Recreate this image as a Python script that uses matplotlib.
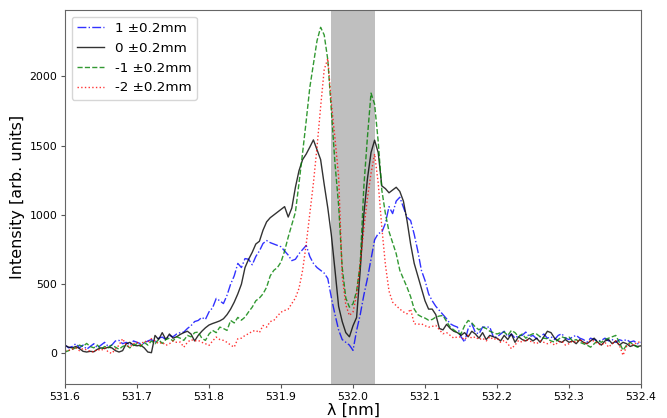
import matplotlib
matplotlib.use("Agg")
import matplotlib.pyplot as plt
import numpy as np

# wavelength grid [nm], 0.005 nm step
wavelength = np.linspace(531.6, 532.4, 161)

# intensities, one value per grid point
pos_1 = [
    60, 40, 50, 70, 40, 60, 30, 50, 70, 40,
    60, 80, 50, 60, 90, 94, 70, 80, 60, 90,
    80, 70, 72, 90, 100, 80, 110, 118, 100, 130,
    120, 140, 150, 154, 180, 200, 230, 238, 260, 245,
    300, 330, 397, 380, 360, 420, 500, 560, 650, 620,
    685, 680, 640, 700, 740, 794, 815, 800, 790, 780,
    770, 740, 710, 670, 680, 720, 750, 780, 700, 650,
    620, 600, 580, 540, 400, 280, 170, 100, 80, 60,
    22, 166, 280, 420, 540, 680, 820, 866, 875, 940,
    1060, 1010, 1100, 1128, 1056, 983, 960, 860, 740, 600,
    527, 430, 380, 340, 310, 280, 250, 214, 200, 190,
    120, 82, 180, 214, 150, 142, 190, 190, 190, 118,
    118, 140, 160, 120, 140, 110, 130, 130, 154, 120,
    130, 106, 120, 140, 110, 120, 100, 130, 142, 110,
    100, 120, 130, 110, 100, 82, 110, 100, 90, 94,
    110, 90, 100, 80, 99, 90, 100, 82, 90, 70,
    80,
]

pos_0 = [
    58, 45, 40, 50, 35, 15, 10, 15, 12, 30,
    40, 35, 45, 40, 20, 10, 20, 70, 80, 60,
    55, 60, 40, 10, 5, 130, 100, 150, 100, 140,
    110, 120, 137, 150, 160, 140, 90, 130, 160, 185,
    205, 216, 225, 235, 250, 280, 320, 370, 430, 500,
    620, 680, 730, 790, 810, 890, 950, 980, 1000, 1020,
    1040, 1060, 985, 1050, 1200, 1320, 1400, 1440, 1490, 1542,
    1470, 1400, 1220, 1050, 850, 600, 340, 230, 150, 120,
    200, 260, 600, 1000, 1260, 1450, 1540, 1450, 1210, 1190,
    1160, 1180, 1200, 1170, 1100, 960, 790, 650, 560, 470,
    380, 320, 320, 280, 180, 170, 210, 180, 160, 150,
    130, 150, 120, 160, 140, 110, 150, 100, 130, 120,
    110, 90, 130, 100, 140, 80, 120, 100, 90, 110,
    90, 110, 80, 120, 160, 150, 110, 90, 80, 100,
    80, 90, 70, 100, 80, 70, 90, 110, 80, 60,
    90, 100, 70, 90, 60, 80, 70, 50, 60, 50,
    55,
]

neg_1 = [
    10, 20, 30, 40, 60, 50, 72, 50, 40, 60,
    30, 50, 40, 60, 45, 30, 50, 60, 40, 58,
    70, 50, 80, 60, 90, 70, 100, 72, 100, 110,
    90, 120, 110, 94, 130, 120, 150, 154, 110, 94,
    140, 166, 150, 190, 180, 166, 238, 220, 260, 240,
    262, 300, 334, 380, 400, 430, 478, 560, 600, 620,
    660, 740, 840, 930, 1020, 1230, 1450, 1680, 1921, 2090,
    2258, 2355, 2300, 2120, 1750, 1370, 1070, 620, 400, 334,
    358, 450, 647, 1200, 1560, 1880, 1800, 1530, 1180, 1010,
    880, 800, 720, 600, 540, 478, 410, 320, 280, 265,
    255, 240, 245, 262, 270, 274, 230, 190, 170, 150,
    142, 200, 238, 220, 190, 170, 190, 180, 160, 150,
    140, 150, 154, 130, 166, 150, 120, 140, 110, 130,
    142, 140, 120, 110, 106, 90, 82, 100, 120, 110,
    118, 90, 100, 80, 70, 60, 45, 70, 94, 80,
    100, 110, 120, 130, 80, 22, 60, 80, 60, 45,
    50,
]

neg_2 = [
    20, 22, 30, 40, 20, 35, 25, 15, 10, 30,
    20, 40, 10, 0, 30, 60, 106, 60, 45, 70,
    80, 60, 90, 80, 106, 90, 70, 80, 58, 70,
    90, 80, 82, 45, 80, 100, 90, 94, 80, 70,
    58, 90, 118, 100, 94, 80, 60, 45, 106, 110,
    130, 142, 160, 166, 150, 202, 190, 230, 238, 270,
    298, 310, 320, 360, 400, 470, 600, 790, 1008, 1230,
    1489, 1780, 2050, 2130, 1800, 1550, 1280, 560, 350, 274,
    300, 420, 647, 900, 1120, 1300, 1441, 1230, 911, 640,
    450, 370, 345, 320, 300, 286, 320, 214, 210, 214,
    200, 190, 195, 202, 170, 142, 150, 130, 110, 120,
    118, 100, 130, 110, 120, 100, 110, 90, 120, 100,
    110, 80, 94, 70, 34, 60, 94, 80, 100, 90,
    80, 70, 90, 80, 70, 80, 60, 80, 90, 60,
    70, 90, 80, 100, 80, 70, 94, 90, 70, 60,
    80, 45, 70, 90, 60, -14, 50, 70, 60, 82,
    80,
]

labels = ["1 ±0.2mm", "0 ±0.2mm", "-1 ±0.2mm", "-2 ±0.2mm"]
series = [pos_1, pos_0, neg_1, neg_2]
colors = ["b", "k", "g", "r"]
styles = ["-.", "-", "--", ":"]

# shaded band around the central wavelength
band = (531.97, 532.03)

fig, ax = plt.subplots(figsize=(6.67, 4.18), dpi=100)
fig.subplots_adjust(left=0.0975, right=0.961, top=0.976, bottom=0.081)

ax.axvspan(band[0], band[1], color="grey", alpha=0.5, lw=0)

for vals, lab, c, ls in zip(series, labels, colors, styles):
    ax.plot(wavelength, vals, ls, color=c, lw=1.0, alpha=0.8, label=lab)

ax.set_xlim(531.6, 532.4)
ax.set_ylim(-222, 2480)
ax.set_xticks(np.arange(531.6, 532.41, 0.1))
ax.set_yticks([0, 500, 1000, 1500, 2000])
ax.tick_params(labelsize=7.8, length=3, pad=2.5, color="#555555")
for sp in ax.spines.values():
    sp.set_color("#666666")

ax.set_xlabel("λ [nm]", fontsize=11.5, labelpad=0.5)
ax.set_ylabel("Intensity [arb. units]", fontsize=11.5, labelpad=3)
ax.legend(loc="upper left", fontsize=9.7)

fig.savefig("out.png", dpi=100)
